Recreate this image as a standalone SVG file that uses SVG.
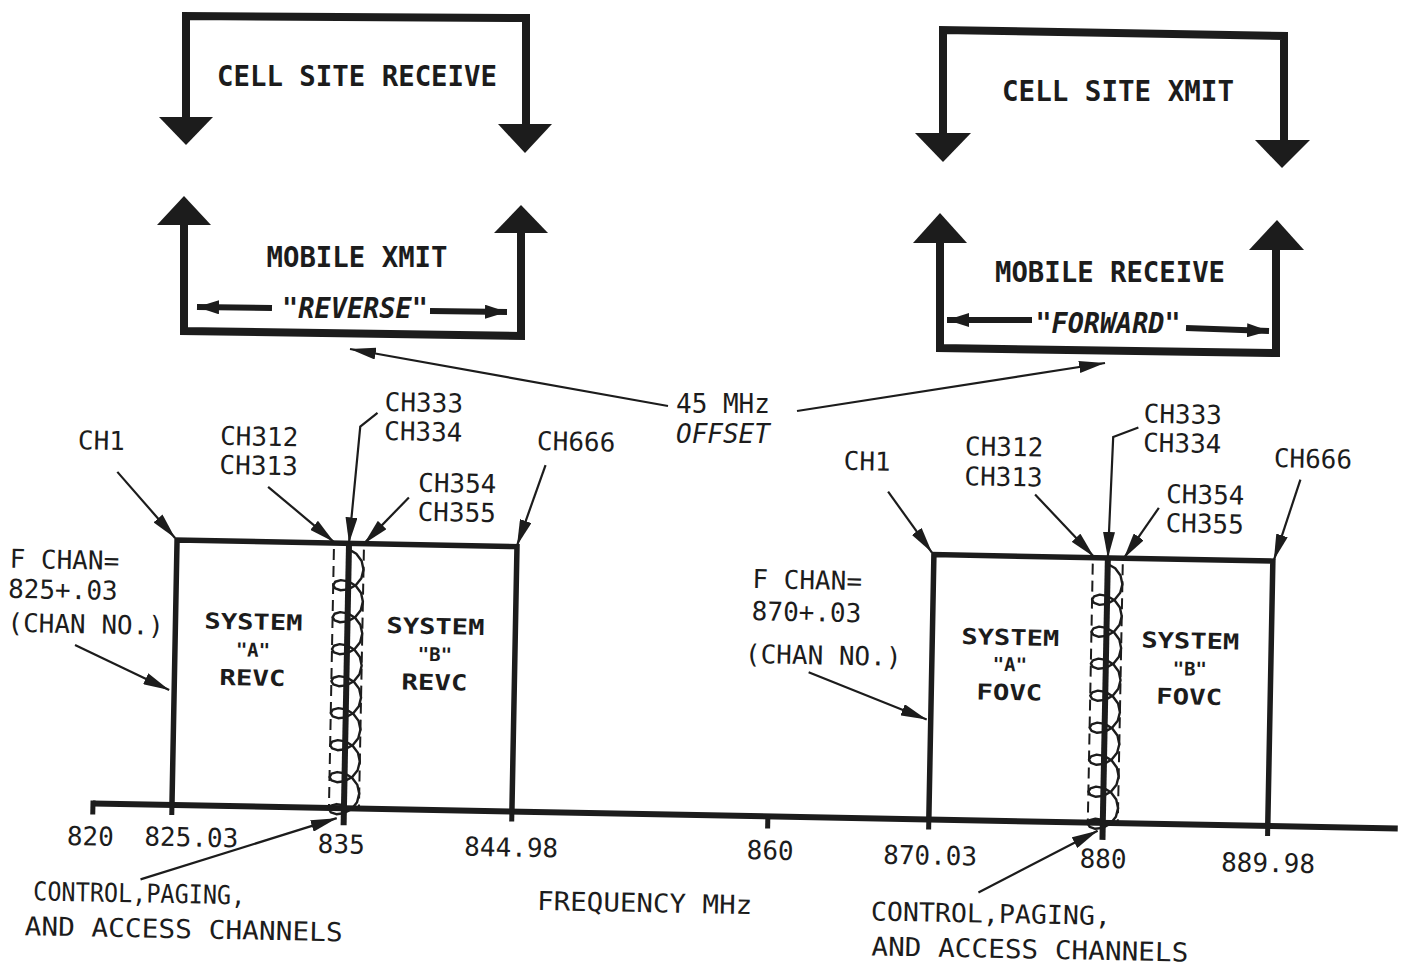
<svg xmlns="http://www.w3.org/2000/svg" xmlns:xlink="http://www.w3.org/1999/xlink" width="1405" height="966" viewBox="0 0 1405 966">
<style>
.bg{fill:#fff}
.thick{fill:none;stroke:#1c1c1c;stroke-width:8;stroke-linejoin:miter}
.head{fill:#1c1c1c;stroke:none}
.box{fill:none;stroke:#1c1c1c;stroke-width:5.5;stroke-linejoin:miter}
.axis{fill:none;stroke:#1c1c1c;stroke-width:6}
.tick{fill:none;stroke:#1c1c1c;stroke-width:5}
.ctr{fill:none;stroke:#1c1c1c;stroke-width:6}
.dash{fill:none;stroke:#1c1c1c;stroke-width:2;stroke-dasharray:11 6}
.coil{fill:none;stroke:#1c1c1c;stroke-width:2.4;stroke-linejoin:round;stroke-linecap:round}
.conn{fill:none;stroke:#1c1c1c;stroke-width:2.2;marker-end:url(#ah)}
.barr{fill:none;stroke:#1c1c1c;stroke-width:6;marker-end:url(#ahb)}
.t{font-family:"DejaVu Sans Mono","Liberation Mono",monospace;font-size:26px;fill:#1c1c1c}
.b{font-family:"DejaVu Sans Mono","Liberation Mono",monospace;font-weight:bold;font-size:29px;fill:#1c1c1c}
.s{font-family:"DejaVu Sans Mono","Liberation Mono",monospace;font-weight:bold;font-size:22px;fill:#1c1c1c;text-anchor:middle}
.q{font-size:19px}
.m{text-anchor:middle}
</style>
<defs>
<marker id="ah" viewBox="0 0 26 12" refX="26" refY="6" markerWidth="26" markerHeight="12" markerUnits="userSpaceOnUse" orient="auto"><path d="M0,0 L26,6 L0,12 z" fill="#1c1c1c"/></marker>
<marker id="ahb" viewBox="0 0 22 14" refX="22" refY="7" markerWidth="22" markerHeight="14" markerUnits="userSpaceOnUse" orient="auto"><path d="M0,0 L22,7 L0,14 z" fill="#1c1c1c"/></marker>
<polyline id="coil" class="coil" points="0,-12 7.5,-7.73 12.99,-0.67 15,8 12.99,16.66 7.5,23.72 0,28 -7.5,29.05 -12.99,27.32 -15,24 -12.99,20.65 -7.5,18.91 0,20"/>
</defs>
<rect class="bg" x="0" y="0" width="1405" height="966"/>

<g id="cell-site-receive">
<polyline class="thick" points="186,117 186,16 526,18 526,124"/>
<polygon class="head" points="159,117 213,117 186,145"/>
<polygon class="head" points="498,124 552,124 525,153"/>
<text class="b m" x="357" y="86" textLength="280" lengthAdjust="spacingAndGlyphs">CELL SITE RECEIVE</text>
</g>

<g id="mobile-xmit">
<polyline class="thick" points="184,224 184,331 521,336 521,232"/>
<polygon class="head" points="157,225 211,225 184,196"/>
<polygon class="head" points="494,233 548,233 521,205"/>
<text class="b m" x="357" y="267" textLength="181" lengthAdjust="spacingAndGlyphs">MOBILE XMIT</text>
<text class="b m" x="355" y="318" font-style="italic" font-size="26" textLength="146" lengthAdjust="spacingAndGlyphs">"REVERSE"</text>
<line class="barr" x1="272" y1="308" x2="197" y2="307"/>
<line class="barr" x1="430" y1="311" x2="507" y2="312"/>
</g>

<g id="cell-site-xmit">
<polyline class="thick" points="943,133 943,30 1284,36 1284,140"/>
<polygon class="head" points="915,133 971,133 943,162"/>
<polygon class="head" points="1255,140 1310,140 1282,168"/>
<text class="b m" x="1118" y="101" textLength="232" lengthAdjust="spacingAndGlyphs">CELL SITE XMIT</text>
</g>

<g id="mobile-receive">
<polyline class="thick" points="940,242 940,348 1276,353 1276,249"/>
<polygon class="head" points="913,243 967,243 940,213"/>
<polygon class="head" points="1249,250 1304,250 1277,220"/>
<text class="b m" x="1110" y="282" textLength="230" lengthAdjust="spacingAndGlyphs">MOBILE RECEIVE</text>
<text class="b m" x="1108" y="333" font-style="italic" font-size="26" textLength="145" lengthAdjust="spacingAndGlyphs">"FORWARD"</text>
<line class="barr" x1="1032" y1="320" x2="947" y2="320"/>
<line class="barr" x1="1186" y1="328" x2="1269" y2="331"/>
</g>

<g id="offset">
<text class="t" x="676" y="413">45 MHz</text>
<text class="t" x="676" y="443" font-style="italic">OFFSET</text>
<line class="conn" x1="668" y1="406" x2="350" y2="349"/>
<line class="conn" x1="797" y1="411" x2="1105" y2="363"/>
</g>

<g id="spectrum" transform="rotate(1.1 172 803)">
<g id="axis">
<line class="axis" x1="93" y1="805" x2="1398" y2="805"/>
<line class="tick" x1="93" y1="802" x2="93" y2="816"/>
<line class="tick" x1="172" y1="805" x2="172" y2="815"/>
<line class="tick" x1="512" y1="805" x2="512" y2="815"/>
<line class="tick" x1="768" y1="805" x2="768" y2="817"/>
<line class="tick" x1="929" y1="805" x2="929" y2="815"/>
<line class="tick" x1="1268" y1="805" x2="1268" y2="815"/>
<text class="t m" x="91" y="847">820</text>
<text class="t m" x="192" y="846">825.03</text>
<text class="t m" x="342" y="850">835</text>
<text class="t m" x="512" y="850">844.98</text>
<text class="t m" x="771" y="848">860</text>
<text class="t m" x="931" y="850">870.03</text>
<text class="t m" x="1104" y="850">880</text>
<text class="t m" x="1269" y="851">889.98</text>
<text class="t" x="539" y="903" textLength="215" lengthAdjust="spacingAndGlyphs">FREQUENCY MHz</text>
</g>

<g id="reverse-band">
<path class="box" d="M172,805 V540 H512 V805"/>
<line class="dash" x1="329" y1="546" x2="329" y2="805"/>
<line class="dash" x1="359" y1="546" x2="359" y2="805"/>
<g transform="translate(344,558)">
<use href="#coil" xlink:href="#coil" y="0"/><use href="#coil" xlink:href="#coil" y="32"/><use href="#coil" xlink:href="#coil" y="64"/><use href="#coil" xlink:href="#coil" y="96"/><use href="#coil" xlink:href="#coil" y="128"/><use href="#coil" xlink:href="#coil" y="160"/><use href="#coil" xlink:href="#coil" y="192"/><use href="#coil" xlink:href="#coil" y="224"/>
</g>
<line class="ctr" x1="344" y1="540" x2="344" y2="822"/>
<text class="s" x="250" y="628" textLength="98" lengthAdjust="spacingAndGlyphs">SYSTEM</text>
<text class="s q" x="250" y="655">"A"</text>
<text class="s" x="250" y="684" textLength="66" lengthAdjust="spacingAndGlyphs">REVC</text>
<text class="s" x="432" y="629" textLength="98" lengthAdjust="spacingAndGlyphs">SYSTEM</text>
<text class="s q" x="432" y="656">"B"</text>
<text class="s" x="432" y="685" textLength="66" lengthAdjust="spacingAndGlyphs">REVC</text>
</g>

<g id="reverse-labels">
<text class="t" x="71" y="451">CH1</text>
<line class="conn" x1="111" y1="473" x2="170" y2="538"/>
<text class="t" x="213" y="444">CH312</text>
<text class="t" x="213" y="473">CH313</text>
<line class="conn" x1="262" y1="485" x2="329" y2="539"/>
<text class="t" x="377" y="407">CH333</text>
<text class="t" x="377" y="436">CH334</text>
<polyline class="conn" points="370,409 353,423 344,540"/>
<text class="t" x="412" y="487">CH354</text>
<text class="t" x="412" y="516">CH355</text>
<line class="conn" x1="403" y1="493" x2="359" y2="540"/>
<text class="t" x="530" y="443">CH666</text>
<line class="conn" x1="539" y1="458" x2="512" y2="539"/>
<text class="t" x="5" y="571">F CHAN=</text>
<text class="t" x="4" y="601">825+.03</text>
<text class="t" x="4" y="635">(CHAN NO.)</text>
<line class="conn" x1="72" y1="647" x2="167" y2="690"/>
<text class="t" x="35" y="903" textLength="212" lengthAdjust="spacingAndGlyphs">CONTROL,PAGING,</text>
<text class="t" x="27" y="938" textLength="318" lengthAdjust="spacingAndGlyphs">AND ACCESS CHANNELS</text>
<line class="conn" x1="142" y1="880" x2="337" y2="815"/>
</g>

<g id="forward-band">
<path class="box" d="M929,805 V540 H1268 V805"/>
<line class="dash" x1="1088" y1="546" x2="1088" y2="805"/>
<line class="dash" x1="1118" y1="546" x2="1118" y2="805"/>
<g transform="translate(1103,558)">
<use href="#coil" xlink:href="#coil" y="0"/><use href="#coil" xlink:href="#coil" y="32"/><use href="#coil" xlink:href="#coil" y="64"/><use href="#coil" xlink:href="#coil" y="96"/><use href="#coil" xlink:href="#coil" y="128"/><use href="#coil" xlink:href="#coil" y="160"/><use href="#coil" xlink:href="#coil" y="192"/><use href="#coil" xlink:href="#coil" y="224"/>
</g>
<line class="ctr" x1="1103" y1="540" x2="1103" y2="822"/>
<text class="s" x="1007" y="629" textLength="98" lengthAdjust="spacingAndGlyphs">SYSTEM</text>
<text class="s q" x="1007" y="655">"A"</text>
<text class="s" x="1007" y="684" textLength="66" lengthAdjust="spacingAndGlyphs">FOVC</text>
<text class="s" x="1187" y="629" textLength="98" lengthAdjust="spacingAndGlyphs">SYSTEM</text>
<text class="s q" x="1187" y="656">"B"</text>
<text class="s" x="1187" y="685" textLength="66" lengthAdjust="spacingAndGlyphs">FOVC</text>
</g>

<g id="forward-labels">
<text class="t" x="837" y="457">CH1</text>
<line class="conn" x1="882" y1="478" x2="927" y2="538"/>
<text class="t" x="958" y="440">CH312</text>
<text class="t" x="958" y="470">CH313</text>
<line class="conn" x1="1029" y1="478" x2="1089" y2="539"/>
<text class="t" x="1136" y="404">CH333</text>
<text class="t" x="1136" y="433">CH334</text>
<polyline class="conn" points="1131,409 1106,419 1103,540"/>
<text class="t" x="1160" y="484">CH354</text>
<text class="t" x="1160" y="513">CH355</text>
<line class="conn" x1="1153" y1="489" x2="1119" y2="540"/>
<text class="t" x="1267" y="446">CH666</text>
<line class="conn" x1="1294" y1="458" x2="1269" y2="539"/>
<text class="t" x="748" y="577">F CHAN=</text>
<text class="t" x="748" y="609">870+.03</text>
<text class="t" x="742" y="652">(CHAN NO.)</text>
<line class="conn" x1="806" y1="660" x2="925" y2="705"/>
<text class="t" x="873" y="907" textLength="240" lengthAdjust="spacingAndGlyphs">CONTROL,PAGING,</text>
<text class="t" x="874" y="942" textLength="317" lengthAdjust="spacingAndGlyphs">AND ACCESS CHANNELS</text>
<line class="conn" x1="980" y1="877" x2="1098" y2="813"/>
</g>
</g>
</svg>
